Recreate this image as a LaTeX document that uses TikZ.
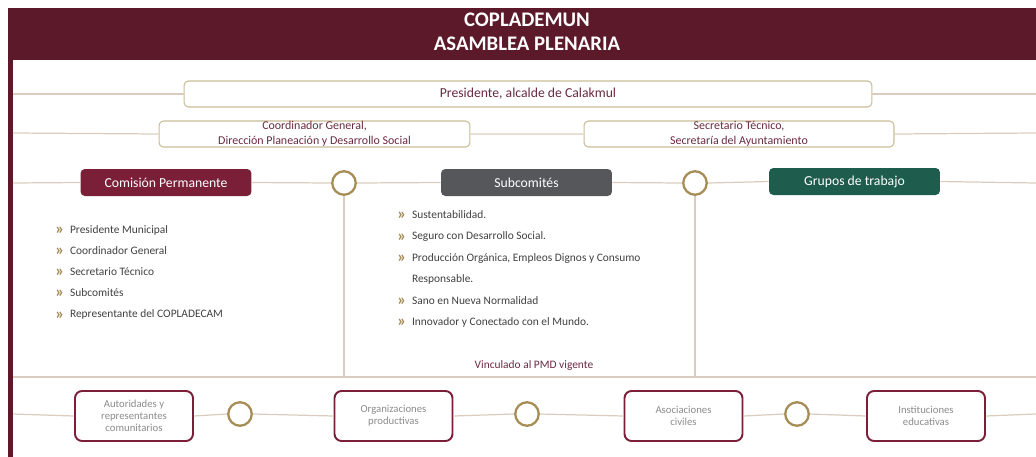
\documentclass[tikz,border=0pt]{standalone}
\usepackage{fontspec}
\setmainfont{Carlito}
\usetikzlibrary{positioning,calc}
\definecolor{guinda}{HTML}{5B1929}
\definecolor{vino}{HTML}{7A1F37}
\definecolor{marco}{HTML}{C9BC98}
\definecolor{texto}{HTML}{6A2A40}
\definecolor{oro}{HTML}{A68D55}
\definecolor{linea}{HTML}{DACDBF}
\definecolor{pizarra}{HTML}{55575B}
\definecolor{pino}{HTML}{1E5D4E}
\definecolor{gris}{HTML}{8C8C8C}
\newcommand{\itm}{\raisebox{-0.8pt}{\fontsize{9.5}{9}\selectfont\bfseries\color{oro}»}\hspace{0.5em}}
\tikzset{
  line/.style={draw=linea, line width=0.7pt},
  cargo/.style={
    rectangle,
    rounded corners=2.5pt,
    draw=marco, line width=0.6pt,
    fill=white,
    text=texto,
    inner sep=0pt,
    minimum height=0.52cm,
    align=center},
  etiqueta/.style={
    rectangle,
    rounded corners=2.5pt,
    text=white,
    minimum width=3.42cm,
    minimum height=0.54cm,
    inner sep=0pt,
    font=\fontsize{7.8}{9}\selectfont},
  ring/.style={
    circle,
    draw=oro, line width=1.3pt,
    fill=white,
    minimum size=0.47cm,
    inner sep=0pt},
  actor/.style={
    rectangle,
    rounded corners=4pt,
    draw=vino, line width=1.1pt,
    fill=white,
    minimum width=2.36cm,
    minimum height=1cm,
    inner sep=0pt,
    align=center,
    text=gris,
    font=\fontsize{6.1}{6.7}\selectfont},
  lista/.style={
    anchor=north west,
    align=left,
    inner sep=0pt,
    text=black!75,
    font=\fontsize{6.5}{12}\selectfont}
}
\begin{document}
\begin{tikzpicture}[x=0.02cm, y=-0.02cm]
  \useasboundingbox (0,0) rectangle (1036,457);

  % marco guinda
  \fill[guinda] (8,8) rectangle (1036,60);
  \fill[guinda] (8,60) rectangle (13,457);
  \node[text=white, font=\bfseries\fontsize{11.8}{13.7}\selectfont, align=center]
    (titulo) at (527,32) {COPLADEMUN\\ASAMBLEA PLENARIA};

  % extremos de las lineas
  \coordinate (l1) at (13,94);   \coordinate (r1) at (1036,94);
  \coordinate (l2) at (13,133);  \coordinate (r2) at (1036,133);
  \coordinate (l3) at (13,183);  \coordinate (r3) at (1036,183);
  \coordinate (sepL) at (13,377); \coordinate (sepR) at (1036,377);
  \coordinate (l4) at (13,414);  \coordinate (r4) at (1036,414);

  \node[cargo, minimum width=13.76cm, font=\fontsize{7.8}{9}\selectfont]
    (presidente) at (528,94) {Presidente, alcalde de Calakmul};
  \node[cargo, minimum width=6.22cm, font=\fontsize{6.8}{8.5}\selectfont]
    (coordinador) at (314.5,134) {Coordinador General,\\Dirección Planeación y Desarrollo Social};
  \node[cargo, minimum width=6.2cm, font=\fontsize{6.8}{8.5}\selectfont]
    (secretario) at (739,134) {Secretario Técnico,\\Secretaría del Ayuntamiento};

  \node[etiqueta, fill=vino] (comision) at (166,182.5) {Comisión Permanente};
  \node[ring] (c1) at (344,183) {};
  \node[etiqueta, fill=pizarra] (subcomites) at (526.5,182.5) {Subcomités};
  \node[ring] (c2) at (695,183) {};
  \node[etiqueta, fill=pino] (grupos) at (854.5,181.5) {Grupos de trabajo};

  \node[lista] (permanente) at (55,225) {\itm Presidente Municipal\\
    \itm Coordinador General\\
    \itm Secretario Técnico\\
    \itm Subcomités\\
    \itm Representante del COPLADECAM};
  \node[lista, font=\fontsize{6.5}{12.2}\selectfont] (temas) at (397,210) {\itm Sustentabilidad.\\
    \itm Seguro con Desarrollo Social.\\
    \itm Producción Orgánica, Empleos Dignos y Consumo\\
    \phantom{\itm}Responsable.\\
    \itm Sano en Nueva Normalidad\\
    \itm Innovador y Conectado con el Mundo.};
  \node[text=texto, font=\fontsize{6.5}{8}\selectfont] (pmd) at (534,366) {Vinculado al PMD vigente};

  \node[actor] (autoridades) at (134,416) {Autoridades y\\representantes\\comunitarios};
  \node[ring] (c3) at (240,414) {};
  \node[actor] (organizaciones) at (393.5,416) {Organizaciones\\productivas};
  \node[ring] (c4) at (527,414) {};
  \node[actor] (asociaciones) at (683.5,416) {Asociaciones\\civiles};
  \node[ring] (c5) at (797,414) {};
  \node[actor] (instituciones) at (926,416) {Instituciones\\educativas};

  % conexiones
  \path[line] (l1) -- (presidente.west) (presidente.east) -- (r1);
  \path[line] (l2) -- (coordinador.west) (coordinador.east) -- (secretario.west)
    (secretario.east) -- (r2);
  \path[line] (l3) -- (comision.west) (comision.east) -- (c1.west)
    (c1.east) -- (subcomites.west) (subcomites.east) -- (c2.west)
    (c2.east) -- (grupos.west) (grupos.east) -- (r3);
  \path[line] (c1.south) -- (c1 |- sepL);
  \path[line] (c2.south) -- (c2 |- sepL);
  \path[line] (sepL) -- (sepR);
  \path[line] (l4) -- (autoridades.west) (autoridades.east) -- (c3.west)
    (c3.east) -- (organizaciones.west) (organizaciones.east) -- (c4.west)
    (c4.east) -- (asociaciones.west) (asociaciones.east) -- (c5.west)
    (c5.east) -- (instituciones.west) (instituciones.east) -- (r4);
\end{tikzpicture}
\end{document}
